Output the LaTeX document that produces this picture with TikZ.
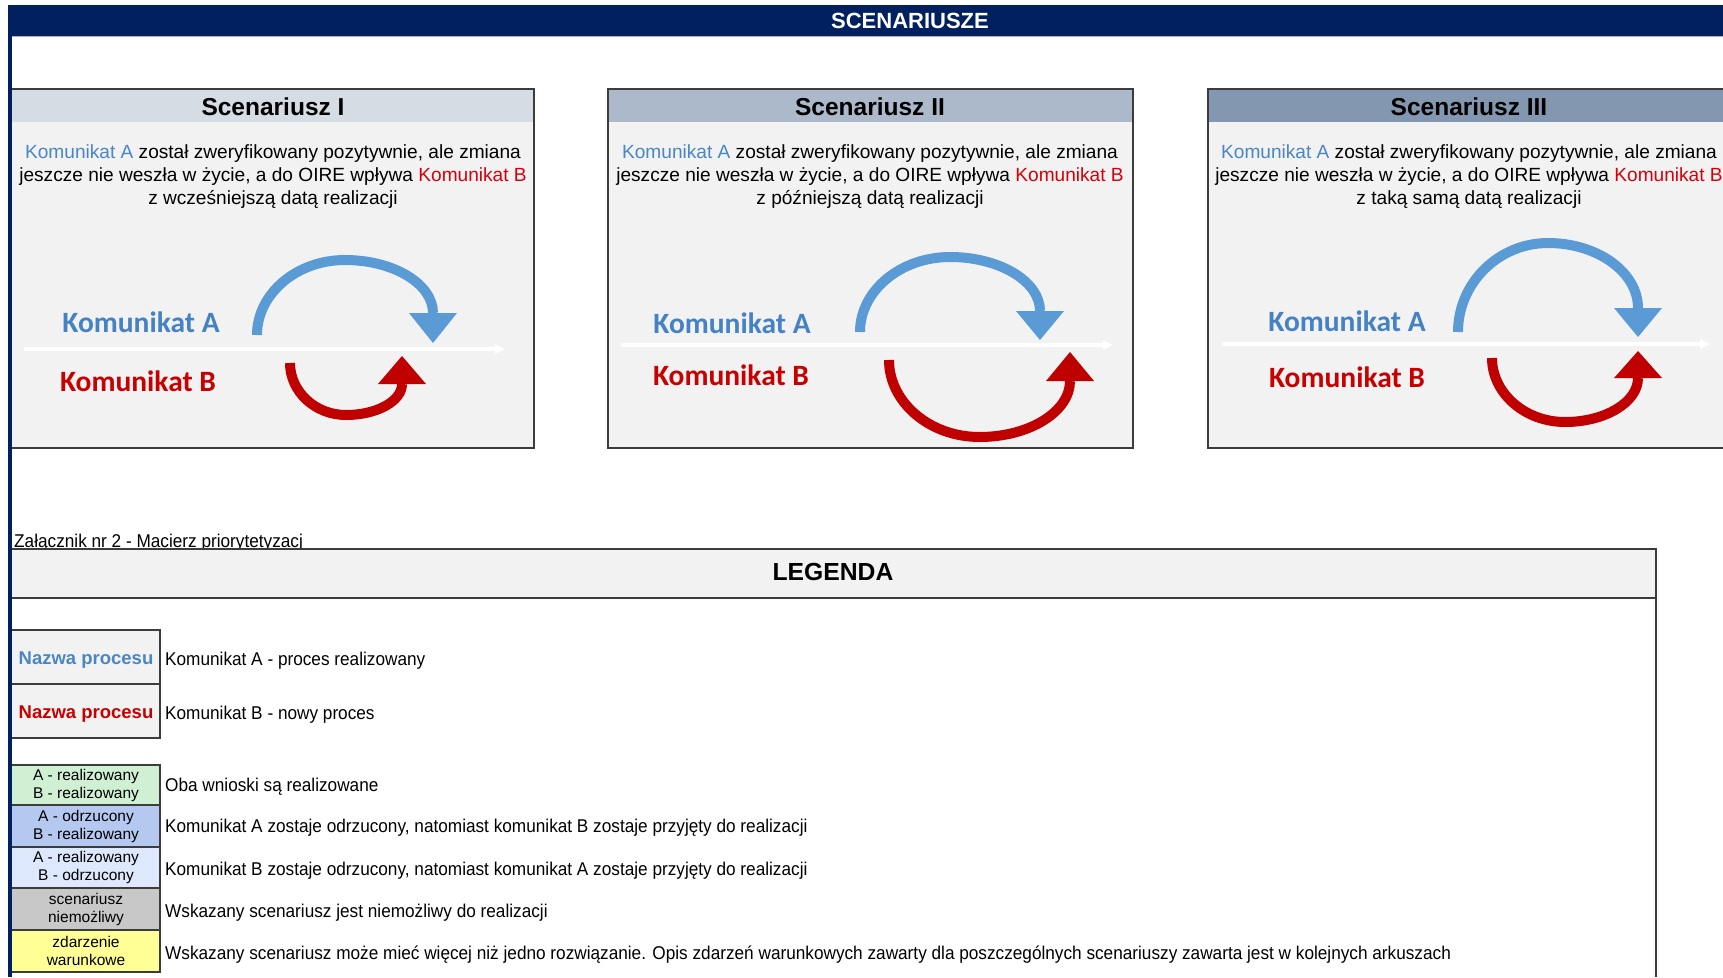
\documentclass[tikz,border=0pt]{standalone}
\usepackage{fontspec}
\setmainfont{Liberation Sans}
\newfontfamily\calib{Carlito}
\newfontfamily\legfont{Liberation Sans}[FakeStretch=0.93]
\usetikzlibrary{arrows.meta}
\definecolor{navy}{RGB}{0,32,96}
\definecolor{bodygray}{RGB}{242,242,242}
\definecolor{boxline}{RGB}{60,60,60}
\definecolor{hdrA}{RGB}{214,220,228}
\definecolor{hdrB}{RGB}{172,185,202}
\definecolor{hdrC}{RGB}{132,151,176}
\definecolor{arcblue}{RGB}{91,155,213}
\definecolor{arcred}{RGB}{192,0,0}
\definecolor{lblblue}{RGB}{68,130,196}
\definecolor{lblred}{RGB}{200,0,0}
\definecolor{txtblue}{RGB}{74,134,196}
\definecolor{txtred}{RGB}{215,0,10}
\definecolor{cgreen}{RGB}{208,240,212}
\definecolor{cblue}{RGB}{180,200,240}
\definecolor{clight}{RGB}{222,232,252}
\definecolor{cgray}{RGB}{200,200,200}
\definecolor{cyellow}{RGB}{255,255,150}
\newcommand\KA{\textcolor{txtblue}{Komunikat A}}
\newcommand\KB{\textcolor{txtred}{Komunikat B}}
% #1 xl, #2 xr, #3 ytop, #4 y at head base, #5 y leg end, #6 tip
\newcommand\blueArc[6]{%
  \pgfmathsetmacro\cxm{(#1+#2)/2}%
  \pgfmathsetmacro\rxm{(#2-#1)/2}%
  \pgfmathsetmacro\ryl{#5-#3}%
  \pgfmathsetmacro\ryr{#4-#3}%
  \draw[arcA] (#1,#5) .. controls (#1,{#5-0.55*\ryl}) and ({\cxm-0.55*\rxm},#3) .. (\cxm,#3) .. controls ({\cxm+0.55*\rxm},#3) and (#2,{#4-0.55*\ryr}) .. (#2,#4);
  \fill[arcblue] ({#2-24},#4) -- ({#2+24},#4) -- (#2,#6) -- cycle;
}
% #1 xl, #2 xr, #3 ybottom, #4 y at head base, #5 y leg end, #6 tip
\newcommand\redArc[6]{%
  \pgfmathsetmacro\cxm{(#1+#2)/2}%
  \pgfmathsetmacro\rxm{(#2-#1)/2}%
  \pgfmathsetmacro\ryl{#3-#5}%
  \pgfmathsetmacro\ryr{#3-#4}%
  \draw[arcB] (#1,#5) .. controls (#1,{#5+0.55*\ryl}) and ({\cxm-0.55*\rxm},#3) .. (\cxm,#3) .. controls ({\cxm+0.55*\rxm},#3) and (#2,{#4+0.55*\ryr}) .. (#2,#4);
  \fill[arcred] ({#2-24},#4) -- ({#2+24},#4) -- (#2,#6) -- cycle;
}
\tikzset{
  arcA/.style={draw=arcblue, line width=10},
  arcB/.style={draw=arcred, line width=10},
  wline/.style={draw=white, line width=4, -{Triangle[length=10,width=9]}},
  scbody/.style={fill=bodygray, draw=boxline, line width=1.3},
  sctitle/.style={font=\bfseries\fontsize{24.5}{24.5}\selectfont, inner sep=0},
  scdesc/.style={align=center, font=\fontsize{19.1}{23}\selectfont, inner sep=0},
  lblA/.style={font=\calib\bfseries\fontsize{29.5}{29.5}\selectfont, text=lblblue, inner sep=0},
  lblB/.style={font=\calib\bfseries\fontsize{29.5}{29.5}\selectfont, text=lblred, inner sep=0},
  legtxt/.style={anchor=base west, font=\legfont\fontsize{18.5}{20}\selectfont, inner sep=0},
  keybox/.style={draw=boxline, line width=1.2},
  keytxt/.style={align=center, font=\fontsize{15.5}{18}\selectfont, inner sep=0},
  nptxt/.style={font=\bfseries\fontsize{18.5}{20}\selectfont, inner sep=0}
}
\begin{document}
\begin{tikzpicture}[x=1pt,y=-1pt]
\useasboundingbox (0,0) rectangle (1723,977);
\clip (0,0) rectangle (1723,977);
\fill[white] (0,0) rectangle (1723,977);
% banner
\fill[navy] (8,5) rectangle (1723,36);
\draw[gray!60, line width=1] (11,36.8) -- (1723,36.8);
\node[font=\bfseries\fontsize{22}{22}\selectfont, text=white, inner sep=0] (title) at (910,21) {SCENARIUSZE};
% scenario boxes
\foreach \xa/\xb/\hc/\nm in {11.5/534/hdrA/1, 608/1133/hdrB/2, 1208/1735/hdrC/3}{
  \filldraw[scbody] (\xa,89) rectangle (\xb,448);
  \fill[\hc] (\xa+0.7,89.7) rectangle (\xb-0.7,122);
  \draw[boxline, line width=2] (\xa,89) -- (\xb,89);
}
\node[sctitle] (t1) at (273,107) {Scenariusz I};
\node[sctitle] (t2) at (870,107) {Scenariusz II};
\node[sctitle] (t3) at (1469,107) {Scenariusz III};
\node[scdesc] (d1) at (273,177) {\KA{} został zweryfikowany pozytywnie, ale zmiana\\jeszcze nie weszła w życie, a do OIRE wpływa \KB\\z wcześniejszą datą realizacji};
\node[scdesc] (d2) at (870,177) {\KA{} został zweryfikowany pozytywnie, ale zmiana\\jeszcze nie weszła w życie, a do OIRE wpływa \KB\\z późniejszą datą realizacji};
\node[scdesc] (d3) at (1469,177) {\KA{} został zweryfikowany pozytywnie, ale zmiana\\jeszcze nie weszła w życie, a do OIRE wpływa \KB\\z taką samą datą realizacji};
% white timelines
\coordinate (w1a) at (24,349); \coordinate (w1b) at (505,349);
\coordinate (w2a) at (621,345); \coordinate (w2b) at (1113,345);
\coordinate (w3a) at (1222,344); \coordinate (w3b) at (1710,344);
\draw[wline] (w1a) -- (w1b);
\draw[wline] (w2a) -- (w2b);
\draw[wline] (w3a) -- (w3b);
% arcs
\blueArc{257}{433}{260}{313}{335}{343}
\redArc{290}{402}{415}{384}{363}{356}
\blueArc{860}{1040}{257}{311}{332}{340}
\redArc{889}{1070}{437}{381}{360}{352}
\blueArc{1458}{1638}{243}{308}{332}{337}
\redArc{1492}{1638}{422}{378}{358}{351}
% labels
\node[lblA] (ka1) at (141,322) {Komunikat A};
\node[lblB] (kb1) at (138,381) {Komunikat B};
\node[lblA] (ka2) at (732,323) {Komunikat A};
\node[lblB] (kb2) at (731,375) {Komunikat B};
\node[lblA] (ka3) at (1347,321) {Komunikat A};
\node[lblB] (kb3) at (1347,377) {Komunikat B};
% legend
\node[legtxt] (zal) at (14,547) {Załącznik nr 2 - Macierz priorytetyzacj};
\filldraw[fill=bodygray, draw=boxline, line width=1.5] (11.5,549) rectangle (1656,598);
\node[font=\bfseries\fontsize{24.7}{24.7}\selectfont, inner sep=0] (leg) at (833,572) {LEGENDA};
\draw[boxline, line width=1.5] (1656,598) -- (1656,977);
% process name keys
\filldraw[keybox, fill=bodygray] (11.5,630) rectangle (160,684);
\filldraw[keybox, fill=bodygray] (11.5,684) rectangle (160,738);
\node[nptxt, text=txtblue] (np1) at (86,660) {Nazwa procesu};
\node[nptxt, text=lblred] (np2) at (86,714) {Nazwa procesu};
\node[legtxt] (l1) at (165,665) {Komunikat A - proces realizowany};
\node[legtxt] (l2) at (165,719) {Komunikat B - nowy proces};
% colour keys
\filldraw[keybox, fill=cgreen] (11.5,765) rectangle (160,805);
\filldraw[keybox, fill=cblue] (11.5,805) rectangle (160,847);
\filldraw[keybox, fill=clight] (11.5,847) rectangle (160,888);
\filldraw[keybox, fill=cgray] (11.5,888) rectangle (160,930);
\filldraw[keybox, fill=cyellow] (11.5,930) rectangle (160,972);
\node[keytxt] (k1) at (86,785) {A - realizowany\\B - realizowany};
\node[keytxt] (k2) at (86,826) {A - odrzucony\\B - realizowany};
\node[keytxt] (k3) at (86,867.5) {A - realizowany\\B - odrzucony};
\node[keytxt] (k4) at (86,909) {scenariusz\\niemożliwy};
\node[keytxt] (k5) at (86,951) {zdarzenie\\warunkowe};
\node[legtxt] (e1) at (165,791) {Oba wnioski są realizowane};
\node[legtxt] (e2) at (165,832) {Komunikat A zostaje odrzucony, natomiast komunikat B zostaje przyjęty do realizacji};
\node[legtxt] (e3) at (165,875) {Komunikat B zostaje odrzucony, natomiast komunikat A zostaje przyjęty do realizacji};
\node[legtxt] (e4) at (165,917) {Wskazany scenariusz jest niemożliwy do realizacji};
\node[legtxt] (e5) at (165,959) {Wskazany scenariusz może mieć więcej niż jedno rozwiązanie. Opis zdarzeń warunkowych zawarty dla poszczególnych scenariuszy zawarta jest w kolejnych arkuszach};
% left navy border
\fill[navy] (8,5) rectangle (11.5,977);
\end{tikzpicture}
\end{document}
